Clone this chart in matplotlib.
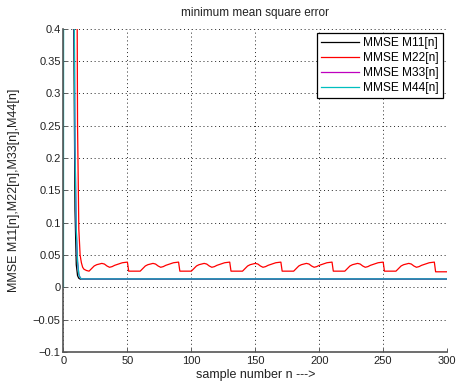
import matplotlib
matplotlib.use("Agg")
import matplotlib.pyplot as plt

plt.rcParams['font.family'] = ['Liberation Sans', 'DejaVu Sans']

title = "minimum mean square error"
xlabel = "sample number n --->"
ylabel = "MMSE M11[n],M22[n],M33[n],M44[n]"

# M11 (black)
n_m11 = [7, 8, 9, 10, 11, 12, 13, 300]
v_m11 = [1.0, 0.42, 0.12, 0.035, 0.018, 0.014, 0.0128, 0.0128]

# M22 (red)
n_m22 = [9, 10, 11, 12, 13, 14, 15, 16, 18, 20,
         22, 24, 26, 28, 30, 32, 34, 36, 38, 40, 43, 46, 50,
         51, 60, 62, 64, 66, 68, 70, 72, 74, 76, 78, 80, 83, 86, 90,
         91, 100, 102, 104, 106, 108, 110, 112, 114, 116, 118, 120, 123, 126, 130,
         131, 140, 142, 144, 146, 148, 150, 152, 154, 156, 158, 160, 163, 166, 170,
         171, 180, 182, 184, 186, 188, 190, 192, 194, 196, 198, 200, 203, 206, 210,
         211, 220, 222, 224, 226, 228, 230, 232, 234, 236, 238, 240, 243, 246, 250,
         251, 260, 262, 264, 266, 268, 270, 272, 274, 276, 278, 280, 283, 286, 290,
         291, 300]
v_m22 = [1.5, 0.8, 0.25, 0.09, 0.05, 0.038, 0.031, 0.028, 0.026, 0.025,
         0.029, 0.033, 0.035, 0.036, 0.037, 0.036, 0.033, 0.031, 0.032, 0.034, 0.036, 0.038, 0.039,
         0.025, 0.025, 0.029, 0.033, 0.035, 0.036, 0.037, 0.036, 0.033, 0.031, 0.032, 0.034, 0.036, 0.038, 0.039,
         0.025, 0.025, 0.029, 0.033, 0.035, 0.036, 0.037, 0.036, 0.033, 0.031, 0.032, 0.034, 0.036, 0.038, 0.039,
         0.025, 0.025, 0.029, 0.033, 0.035, 0.036, 0.037, 0.036, 0.033, 0.031, 0.032, 0.034, 0.036, 0.038, 0.039,
         0.025, 0.025, 0.029, 0.033, 0.035, 0.036, 0.037, 0.036, 0.033, 0.031, 0.032, 0.034, 0.036, 0.038, 0.039,
         0.025, 0.025, 0.029, 0.033, 0.035, 0.036, 0.037, 0.036, 0.033, 0.031, 0.032, 0.034, 0.036, 0.038, 0.039,
         0.025, 0.025, 0.029, 0.033, 0.035, 0.036, 0.037, 0.036, 0.033, 0.031, 0.032, 0.034, 0.036, 0.038, 0.039,
         0.024, 0.024]

# M33 (magenta)
n_m33 = [7, 8, 9, 10, 11, 12, 13, 14, 300]
v_m33 = [1.5, 0.55, 0.22, 0.09, 0.04, 0.02, 0.015, 0.013, 0.013]

# M44 (cyan)
n_m44 = [0, 1, 8, 9, 10, 11, 12, 13, 14, 300]
v_m44 = [0.0, 5.0, 0.6, 0.22, 0.09, 0.04, 0.02, 0.015, 0.013, 0.013]

labels = ["MMSE M11[n]", "MMSE M22[n]", "MMSE M33[n]", "MMSE M44[n]"]
colors = ["k", "r", "m", "c"]

xticks = [0, 50, 100, 150, 200, 250, 300]
yticks = [-0.1, -0.05, 0, 0.05, 0.1, 0.15, 0.2, 0.25, 0.3, 0.35, 0.4]
ytick_labels = ["\u22120.1", "\u22120.05", "0", "0.05", "0.1", "0.15", "0.2",
                "0.25", "0.3", "0.35", "0.4"]

fig = plt.figure(figsize=(4.6, 3.85), dpi=100)
ax = fig.add_axes([0.138, 0.0857, 0.834, 0.84])

series = [(n_m11, v_m11), (n_m22, v_m22), (n_m33, v_m33), (n_m44, v_m44)]
for (n, v), lab, c in zip(series, labels, colors):
    ax.plot(n, v, color=c, lw=0.9, label=lab)

ax.set_xlim(0, 300)
ax.set_ylim(-0.1, 0.4)
ax.set_xticks(xticks)
ax.set_yticks(yticks)
ax.set_yticklabels(ytick_labels)
ax.tick_params(direction="in", length=3, width=0.6,
               labelsize=8, colors="#444444", labelcolor="#222222")
ax.tick_params(axis="y", pad=2)
ax.tick_params(axis="x", pad=3)
ax.grid(True, linestyle=(0, (1, 3)), color="#222222", lw=0.7)
ax.spines["top"].set_visible(False)
ax.spines["right"].set_visible(False)
for s in ("left", "bottom"):
    ax.spines[s].set_color("#555555")
    ax.spines[s].set_linewidth(1.2)

ax.set_title(title, fontsize=8.5, color="#222222", pad=9)
ax.set_xlabel(xlabel, fontsize=9, color="#222222", labelpad=2)
ax.set_ylabel(ylabel, fontsize=9, color="#222222", labelpad=9)

leg = ax.legend(loc="upper right", fontsize=8.6, fancybox=False, framealpha=1,
                edgecolor="black", handlelength=3.2, borderpad=0.35,
                labelspacing=0.25, handletextpad=0.35, borderaxespad=0.35)
leg.get_frame().set_linewidth(0.9)

fig.savefig("out.png", dpi=100)
